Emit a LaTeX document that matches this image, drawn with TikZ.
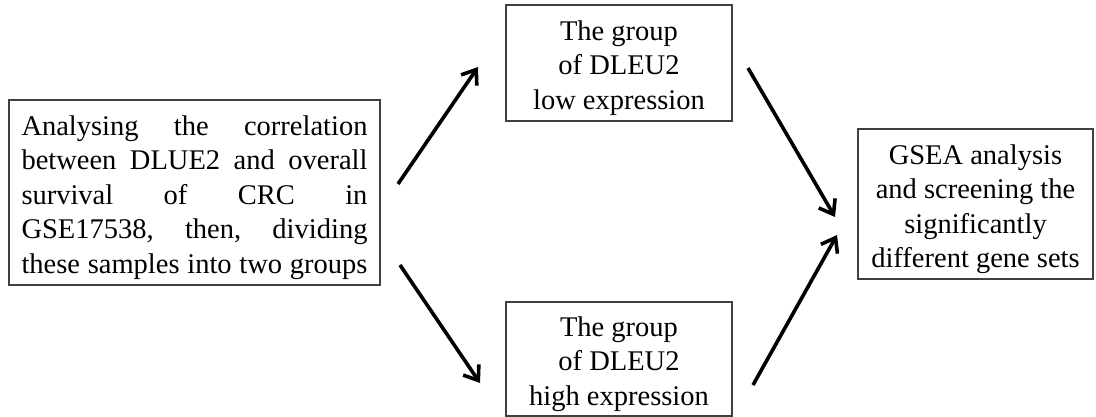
\documentclass[tikz,border=0pt]{standalone}
\usepackage{fontspec}
\setmainfont{Liberation Serif}
\usetikzlibrary{arrows.meta}
\newcommand\jl[1]{\makebox[346pt][s]{#1}}
\begin{document}
\begin{tikzpicture}[x=1pt,y=-1pt,
  box/.style={draw=black!75, line width=1.3pt, inner sep=0pt},
  txt/.style={inner sep=0pt, align=center, yshift=-5pt,
    font=\fontsize{28.5}{34.5}\selectfont},
  arr/.style={line width=3.6pt, -{Straight Barb[length=13pt,width=19pt]}}]
\useasboundingbox (0,0) rectangle (1096,417);
\node[box, minimum width=371pt, minimum height=185pt] (src) at (194.5,192.5) {};
\node[txt, align=left] (srct) at (src.center)
  {\jl{Analysing the correlation}\\
   \jl{between DLUE2 and overall}\\
   \jl{survival of CRC in}\\
   \jl{GSE17538, then, dividing}\\
   \jl{these samples into two groups}};
\node[box, minimum width=226pt, minimum height=116pt] (low) at (619,63) {};
\node[txt] (lowt) at (low.center) {The group\\of DLEU2\\low expression};
\node[box, minimum width=226pt, minimum height=114pt] (high) at (619,359) {};
\node[txt] (hight) at (high.center) {The group\\of DLEU2\\high expression};
\node[box, minimum width=235pt, minimum height=150pt] (gsea) at (975.5,204) {};
\node[txt] (gseat) at (gsea.center)
  {GSEA analysis\\and screening the\\significantly\\different gene sets};
\coordinate (a1s) at (398,184);
\coordinate (a1e) at (478,67);
\coordinate (a2s) at (400,265);
\coordinate (a2e) at (480,383);
\coordinate (a3s) at (748,68);
\coordinate (a3e) at (835,217);
\coordinate (a4s) at (753,385);
\coordinate (a4e) at (837,235);
\draw[arr] (a1s) -- (a1e);
\draw[arr] (a2s) -- (a2e);
\draw[arr] (a3s) -- (a3e);
\draw[arr] (a4s) -- (a4e);
\end{tikzpicture}
\end{document}
